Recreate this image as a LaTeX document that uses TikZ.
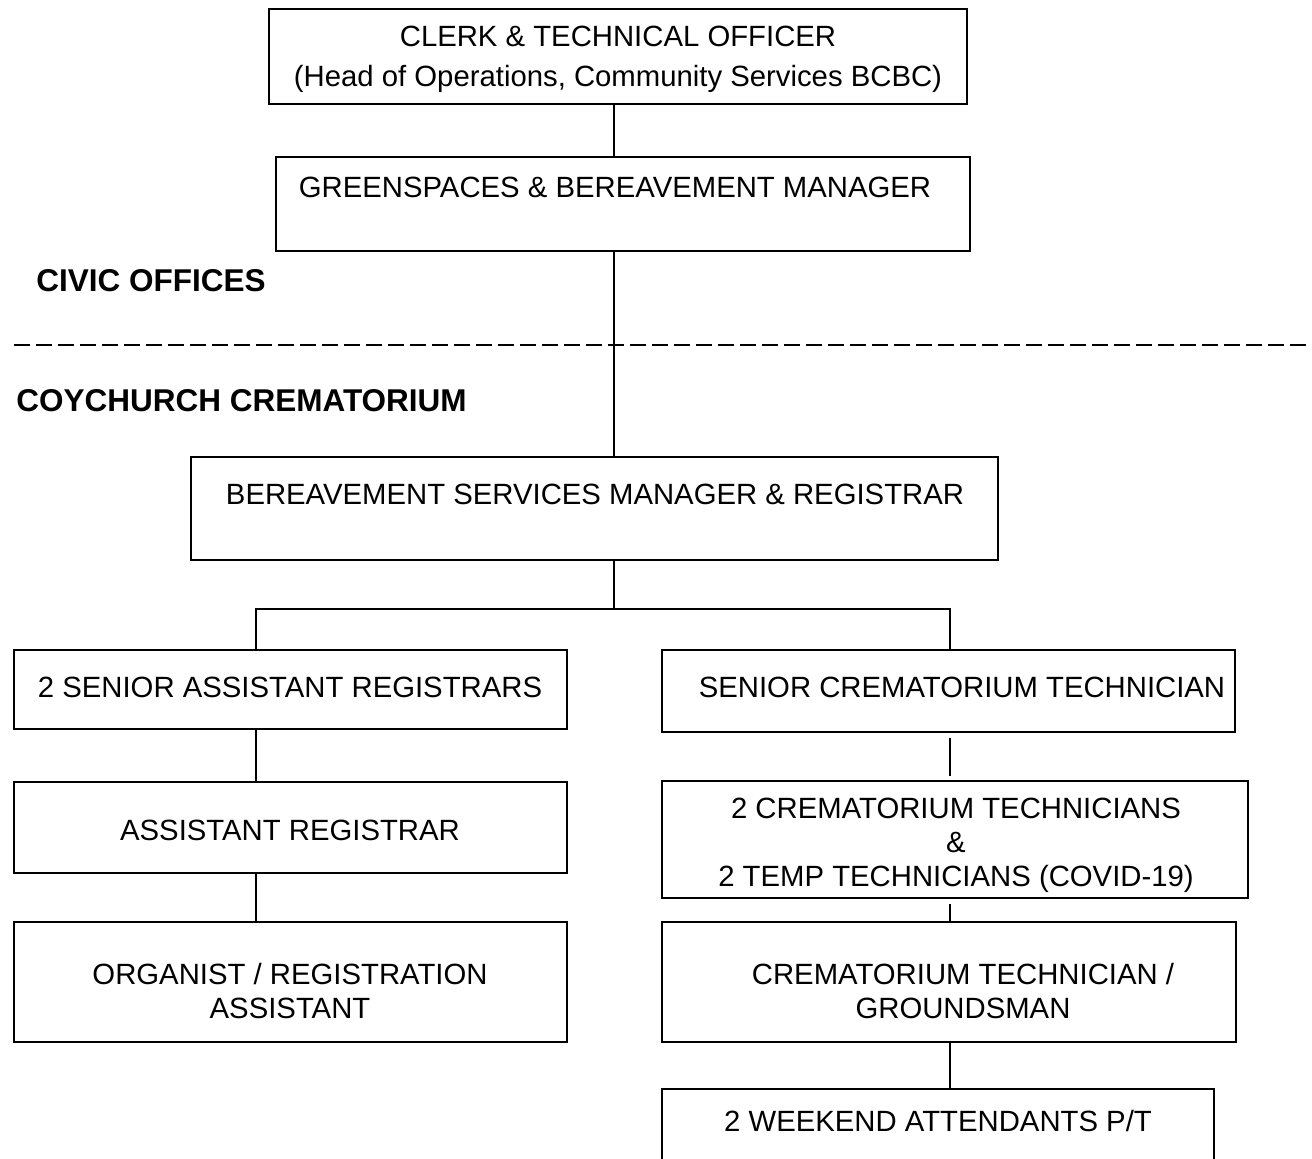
\documentclass[tikz,border=0pt]{standalone}
\usepackage{fontspec}
\setmainfont{Liberation Sans}
\usetikzlibrary{fit}
\begin{document}
\begin{tikzpicture}[x=0.5pt,y=-0.5pt,
  box/.style={draw,line width=1pt,inner sep=0pt,rectangle},
  lbl/.style={inner sep=0pt,align=center,font=\fontsize{14.65}{17}\selectfont},
  hdr/.style={inner sep=0pt,anchor=west,font=\fontsize{15.75}{18}\selectfont\bfseries},
  conn/.style={line width=1pt},
  sep/.style={line width=1pt,dash pattern=on 8pt off 3pt}]
\useasboundingbox (0,0) rectangle (1312,1158);
\clip (0,0) rectangle (1312,1158);
\fill[white] (0,0) rectangle (1312,1158);

% spines
\coordinate (spine) at (614,0);
\coordinate (lspine) at (256,0);
\coordinate (rspine) at (950,0);

% boxes
\node[box,fit={(269,9) (967,104)}] (b1) {};
\node[lbl] (t1) at (618,59) {CLERK \& TECHNICAL OFFICER\\[3pt](Head of Operations, Community Services BCBC)};

\node[box,fit={(276,157) (970,251)}] (b2) {};
\node[lbl] (t2) at (615,187) {GREENSPACES \& BEREAVEMENT MANAGER};

\node[hdr] (civic) at (36,281) {CIVIC OFFICES};
\coordinate (dl) at (14,345);
\coordinate (dr) at (1307,345);
\draw[sep] (dl) -- (dr);
\node[hdr] (coy) at (16,401) {COYCHURCH CREMATORIUM};

\node[box,fit={(191,457) (998,560)}] (b3) {};
\node[lbl] (t3) at (595,494) {BEREAVEMENT SERVICES MANAGER \& REGISTRAR};

\node[box,fit={(14,650) (567,729)}] (sa) {};
\node[lbl] (tsa) at (290,687) {2 SENIOR ASSISTANT REGISTRARS};

\node[box,fit={(662,650) (1235,732)}] (sct) {};
\node[lbl] (tsct) at (962,687) {SENIOR CREMATORIUM TECHNICIAN};

\node[box,fit={(14,782) (567,873)}] (ar) {};
\node[lbl] (tar) at (290,830) {ASSISTANT REGISTRAR};

\node[box,fit={(14,922) (567,1042)}] (org) {};
\node[lbl] (torg) at (290,991) {ORGANIST / REGISTRATION\\ASSISTANT};

\node[box,fit={(662,781) (1248,898)}] (ct) {};
\node[lbl] (tct) at (956,845) {2 CREMATORIUM TECHNICIANS\\\&\\2 TEMP TECHNICIANS (COVID-19)};

\node[box,fit={(662,922) (1236,1042)}] (ctg) {};
\node[lbl] (tctg) at (963,991) {CREMATORIUM TECHNICIAN /\\GROUNDSMAN};

\node[box,fit={(662,1089) (1214,1200)}] (wa) {};
\node[lbl] (twa) at (938,1121) {2 WEEKEND ATTENDANTS P/T};

% connectors
\draw[conn] (spine |- b1.south) -- (spine |- b2.north);
\draw[conn] (spine |- b2.south) -- (spine |- b3.north);
\coordinate (fork) at (614,609);
\draw[conn] (spine |- b3.south) -- (fork);
\draw[conn] (lspine |- sa.north) -- (lspine |- fork) -- (rspine |- fork) -- (rspine |- sct.north);
\draw[conn] (lspine |- sa.south) -- (lspine |- ar.north);
\draw[conn] (lspine |- ar.south) -- (lspine |- org.north);
\draw[conn] ([yshift=-2.5pt]rspine |- sct.south) -- ([yshift=2pt]rspine |- ct.north);
\draw[conn] ([yshift=-2.5pt]rspine |- ct.south) -- (rspine |- ctg.north);
\draw[conn] (rspine |- ctg.south) -- (rspine |- wa.north);
\end{tikzpicture}
\end{document}
